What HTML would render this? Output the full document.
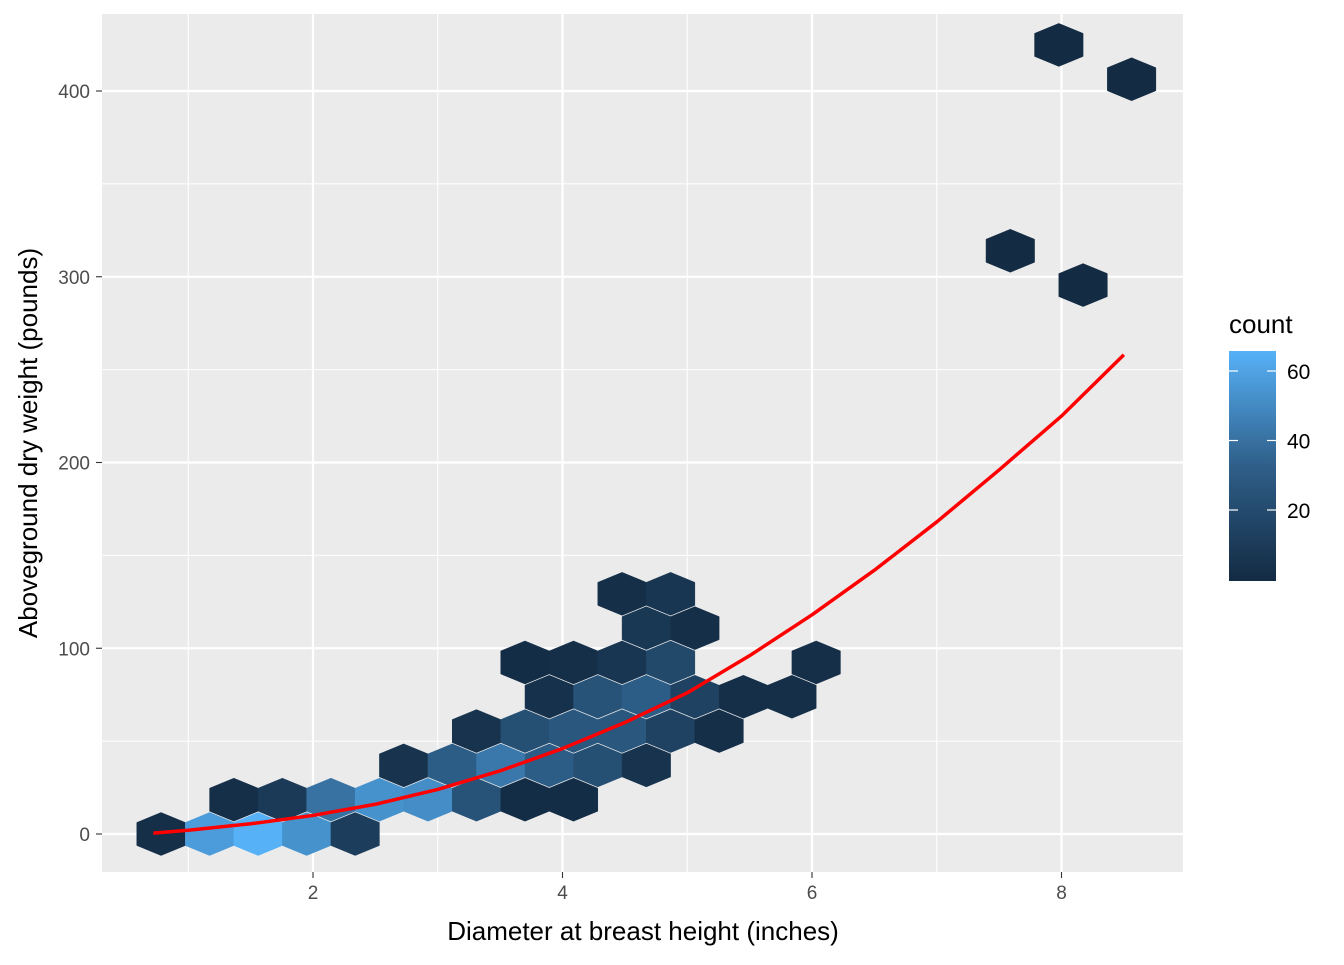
<!DOCTYPE html>
<html><head><meta charset="utf-8"><style>
body{margin:0;background:#fff;}
svg text{font-family:"Liberation Sans",Arial,sans-serif;}
</style></head><body>
<svg id="chart" width="1344" height="960" xmlns="http://www.w3.org/2000/svg">
<rect width="1344" height="960" fill="#fff"/>
<rect x="102" y="14" width="1081" height="858" fill="#EBEBEB"/>
<g id="grid"></g>
<g id="hexes"></g>
<g id="curve"></g>
<g id="axes"></g>
<text x="643" y="940" font-size="26" text-anchor="middle" fill="#000">Diameter at breast height (inches)</text>
<text transform="translate(37,443) rotate(-90)" font-size="26" text-anchor="middle" fill="#000">Aboveground dry weight (pounds)</text>
<g>
<text x="1229" y="333" font-size="26" fill="#000">count</text>
<defs><linearGradient id="lg" x1="0" y1="1" x2="0" y2="0">
<stop offset="0" stop-color="#132B43"/><stop offset="0.5" stop-color="#2F5F89"/><stop offset="1" stop-color="#56B1F7"/></linearGradient></defs>
<rect x="1229" y="351" width="47" height="230" fill="url(#lg)"/>
<g id="legend-ticks"></g>
</g>
</svg>
<script>
// hex bins: x, y in data units, count
const hexX = [];
const hexY = [];
// Read as grid (row, half-column index, count)
const hexRow = [0,0,0,0,0, 1,1,1,1,1,1,1,1, 2,2,2,2,2,2, 3,3,3,3,3,3, 4,4,4,4,4,4, 5,5,5,5,5, 6,6, 7,7, 23,22,17,16];
const hexCol = [0,2,4,6,8, 3,5,7,9,11,13,15,17, 10,12,14,16,18,20, 13,15,17,19,21,23, 16,18,20,22,24,26, 15,17,19,21,27, 20,22, 19,21, 37,40,35,38];
const hexCount = [3,55,65,50,10, 3,8,35,50,48,20,2,2, 5,25,38,25,18,5, 5,18,22,22,12,3, 4,20,25,12,3,3, 2,3,6,15,3, 7,3, 3,6, 1,1,1,1];
const binX0 = 0.782, binDX = 0.389, binDY = 18.47;
for (let i = 0; i < hexRow.length; i++) { hexX.push(binX0 + hexCol[i]*binDX/2); hexY.push(hexRow[i]*binDY); }

const curveX = [0.72,1,1.5,2,2.5,3,3.5,4,4.5,5,5.5,6,6.5,7,7.5,8,8.5];
const curveY = [0.5,2,5.5,10,16,24,34,46,60,76,96,118,142,168,196,225,258];

const xTicks = [2,4,6,8];
const xMinor = [1,3,5,7];
const yTicks = [0,100,200,300,400];
const yMinor = [50,150,250,350];
const legendTicks = [20,40,60];

const NS = "http://www.w3.org/2000/svg";
const sx = v => 63.5 + v*124.75;
const sy = v => 834 - v*1.8575;
const ly = v => 579.5 - v*3.475;
function mk(tag, attrs, parent){const e=document.createElementNS(NS,tag);for(const k in attrs)e.setAttribute(k,attrs[k]);parent.appendChild(e);return e;}
const lo=[0x13,0x2B,0x43], hi=[0x56,0xB1,0xF7];
function col(c){const t=Math.max(0,Math.min(1,(c-1)/64));return "rgb("+lo.map((a,i)=>Math.round(a+(hi[i]-a)*t)).join(",")+")";}

const grid=document.getElementById('grid');
xMinor.forEach(v=>{const l=mk('line',{x1:sx(v),x2:sx(v),y1:14,y2:872,stroke:'#fff','stroke-width':1.1},grid);
});
yMinor.forEach(v=>{const l=mk('line',{x1:102,x2:1183,y1:sy(v),y2:sy(v),stroke:'#fff','stroke-width':1.1},grid);
});
xTicks.forEach(v=>{const l=mk('line',{x1:sx(v),x2:sx(v),y1:14,y2:872,stroke:'#fff','stroke-width':2.2},grid);
});
yTicks.forEach(v=>{const l=mk('line',{x1:102,x2:1183,y1:sy(v),y2:sy(v),stroke:'#fff','stroke-width':2.2},grid);
});

const hg=document.getElementById('hexes');
const hw=24.25, hh=21.5, hs=11.5;
for(let i=0;i<hexX.length;i++){
  const cx=sx(hexX[i]), cy=sy(hexY[i]);
  const pts=[[cx,cy-hh],[cx+hw,cy-hs],[cx+hw,cy+hs],[cx,cy+hh],[cx-hw,cy+hs],[cx-hw,cy-hs]].map(p=>p.join(',')).join(' ');
  const p=mk('polygon',{points:pts,fill:col(hexCount[i]),stroke:col(hexCount[i]),'stroke-width':0.5},hg);
  
  
}

const cg=document.getElementById('curve');
let d='M'+sx(curveX[0])+','+sy(curveY[0]);
for(let i=1;i<curveX.length;i++){d+=' L'+sx(curveX[i])+','+sy(curveY[i]);}
const cp=mk('path',{d:d,fill:'none',stroke:'#FF0000','stroke-width':3.5,'stroke-linejoin':'round'},cg);



const ax=document.getElementById('axes');
xTicks.forEach(v=>{
  const t=mk('line',{x1:sx(v),x2:sx(v),y1:872,y2:878,stroke:'#333','stroke-width':1.1},ax);
  
  const tx=mk('text',{x:sx(v),y:899,'font-size':19,'text-anchor':'middle',fill:'#4D4D4D'},ax);tx.textContent=v;
  
});
yTicks.forEach(v=>{
  const t=mk('line',{x1:96,x2:102,y1:sy(v),y2:sy(v),stroke:'#333','stroke-width':1.1},ax);
  
  const tx=mk('text',{x:90,y:sy(v)+7,'font-size':19,'text-anchor':'end',fill:'#4D4D4D'},ax);tx.textContent=v;
  
});
const lt=document.getElementById('legend-ticks');
legendTicks.forEach(v=>{
  const y=ly(v);
  const a=mk('line',{x1:1229,x2:1238,y1:y,y2:y,stroke:'#fff','stroke-width':1.2},lt);
  
  const b=mk('line',{x1:1267,x2:1276,y1:y,y2:y,stroke:'#fff','stroke-width':1.2},lt);
  
  const tx=mk('text',{x:1287,y:y+8,'font-size':21,fill:'#000'},lt);tx.textContent=v;
  
});
</script>
</body></html>
